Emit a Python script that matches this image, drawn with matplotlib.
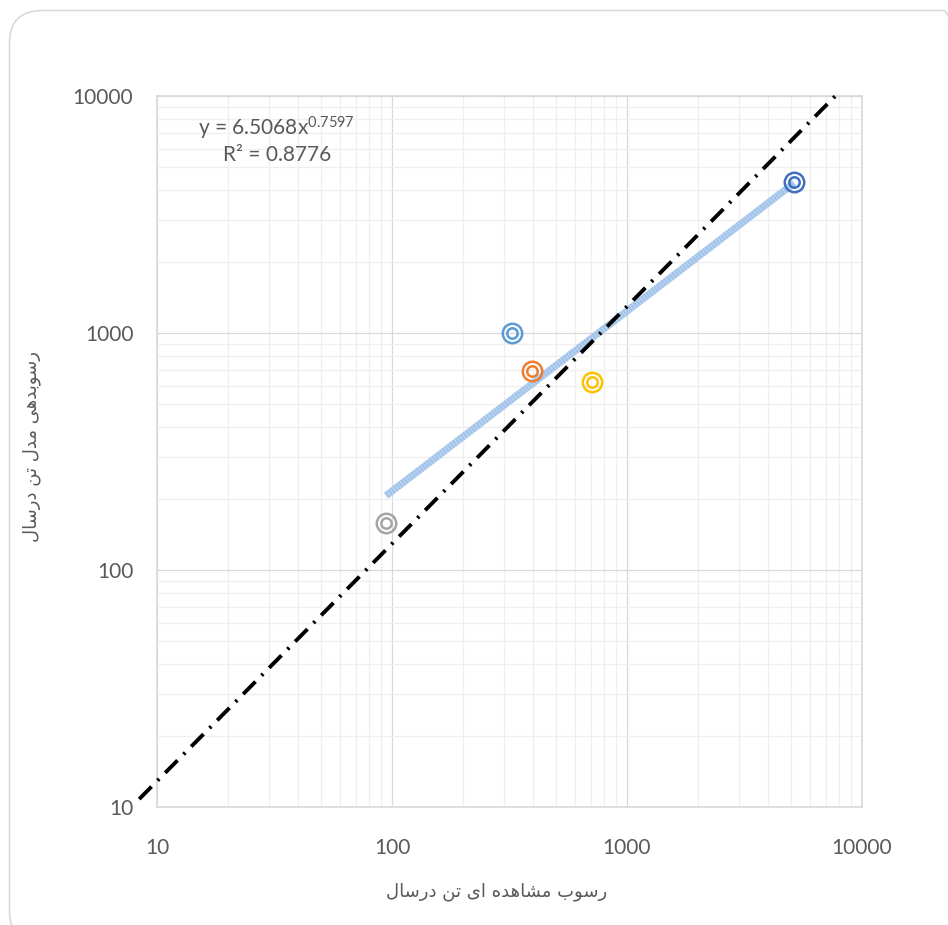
import numpy as np
import matplotlib.pyplot as plt
from matplotlib.patches import FancyBboxPatch

plt.rcParams['font.family'] = ['Lato', 'DejaVu Sans']
plt.rcParams['mathtext.default'] = 'regular'

# observed vs. modelled sediment load (ton/year)
observed = [94.3, 325, 395, 711, 5150]
modeled = [158, 1000, 694, 620, 4350]
point_colors = ['#a5a5a5', '#5b9bd5', '#ed7d31', '#ffc000', '#3f6fc0']

# power trend line  y = a * x^b
fit_a = 6.5068
fit_b = 0.7597
fit_r2 = 0.8776

# hand drawn reference line
ref_x = [8.4, 7700]
ref_y = [10.8, 10000]

axis_ticks = [10, 100, 1000, 10000]
x_title = 'رسوب مشاهده ای تن درسال'
y_title = 'رسوبدهی مدل تن درسال'

# contextual forms: isolated, final, initial, medial
FORMS = {
    'ا': ('\ufe8d', '\ufe8e', None, None),
    'ب': ('\ufe8f', '\ufe90', '\ufe91', '\ufe92'),
    'ت': ('\ufe95', '\ufe96', '\ufe97', '\ufe98'),
    'د': ('\ufea9', '\ufeaa', None, None),
    'ر': ('\ufead', '\ufeae', None, None),
    'س': ('\ufeb1', '\ufeb2', '\ufeb3', '\ufeb4'),
    'ش': ('\ufeb5', '\ufeb6', '\ufeb7', '\ufeb8'),
    'ل': ('\ufedd', '\ufede', '\ufedf', '\ufee0'),
    'م': ('\ufee1', '\ufee2', '\ufee3', '\ufee4'),
    'ن': ('\ufee5', '\ufee6', '\ufee7', '\ufee8'),
    'ه': ('\ufee9', '\ufeea', '\ufeeb', '\ufeec'),
    'و': ('\ufeed', '\ufeee', None, None),
    'ی': ('\ufbfc', '\ufbfd', '\ufbfe', '\ufbff'),
}


def persian(text):
    out = []
    for i, ch in enumerate(text):
        if ch not in FORMS:
            out.append(ch)
            continue
        prev = text[i - 1] if i > 0 else ''
        nxt = text[i + 1] if i + 1 < len(text) else ''
        iso, fin, ini, med = FORMS[ch]
        join_prev = prev in FORMS and FORMS[prev][2] is not None
        join_next = nxt in FORMS and ini is not None
        if join_prev and join_next:
            out.append(med)
        elif join_prev:
            out.append(fin)
        elif join_next:
            out.append(ini)
        else:
            out.append(iso)
    return ''.join(reversed(out))


W, H = 948, 925
fig = plt.figure(figsize=(W / 100, H / 100), dpi=100)
ax = fig.add_axes([157 / W, 1 - 807 / H, 705 / W, 711 / H])

ax.set_xscale('log')
ax.set_yscale('log')
ax.set_xlim(10, 10000)
ax.set_ylim(10, 10000)

ax.grid(which='minor', color='#efefef', lw=0.9)
ax.grid(which='major', color='#d9d9d9', lw=0.9)
ax.set_axisbelow(True)
for sp in ax.spines.values():
    sp.set_color('#d9d9d9')
    sp.set_linewidth(1.2)

ax.set_xticks(axis_ticks)
ax.set_yticks(axis_ticks)
ax.set_xticklabels([str(t) for t in axis_ticks])
ax.set_yticklabels([str(t) for t in axis_ticks])
ax.tick_params(which='both', length=0, labelsize=15, labelcolor='#595959')
ax.tick_params(axis='x', pad=22)
ax.tick_params(axis='y', pad=17)

# trend line
xs = np.geomspace(min(observed), max(observed), 60)
ax.plot(xs, fit_a * xs ** fit_b, color='#a2c4ea', lw=5.2, solid_capstyle='butt', zorder=2)
ax.plot(xs, fit_a * xs ** fit_b, color='white', lw=5.2, alpha=0.3,
        ls=(0, (0.15, 0.3)), zorder=2)

# reference line
ax.plot(ref_x, ref_y, color='black', lw=2.8, ls=(0, (4.5, 2.2, 0.6, 2.2)),
        clip_on=False, zorder=3)

# ring markers
for x, y, c in zip(observed, modeled, point_colors):
    ax.plot(x, y, 'o', ms=14, mfc='none', mec=c, mew=1.8, zorder=4)
    ax.plot(x, y, 'o', ms=7.5, mfc='none', mec=c, mew=1.8, zorder=4)

fig.text(276 / W, 1 - 128 / H, f'y = {fit_a}x$^{{{fit_b}}}$', ha='center', va='center',
         fontsize=15, color='#595959')
fig.text(277 / W, 1 - 155 / H, f'R² = {fit_r2}', ha='center', va='center',
         fontsize=15, color='#595959')

fig.text(497 / W, 1 - 892 / H, persian(x_title), ha='center', va='center',
         fontsize=13, color='#595959', family=['DejaVu Sans'])
fig.text(32 / W, 1 - 446 / H, persian(y_title), ha='center', va='center', rotation=90,
         fontsize=13, color='#595959', family=['DejaVu Sans'])

# chart frame
frame = FancyBboxPatch((9.5 / W, -0.02), 1.03 - 9.5 / W, 1.02 - 10.5 / H,
                       boxstyle='round,pad=0,rounding_size=0.035',
                       transform=fig.transFigure, fc='none', ec='#d9d9d9', lw=1.2)
frame.set_clip_on(False)
fig.patches.append(frame)

fig.savefig('out.png', dpi=100)
